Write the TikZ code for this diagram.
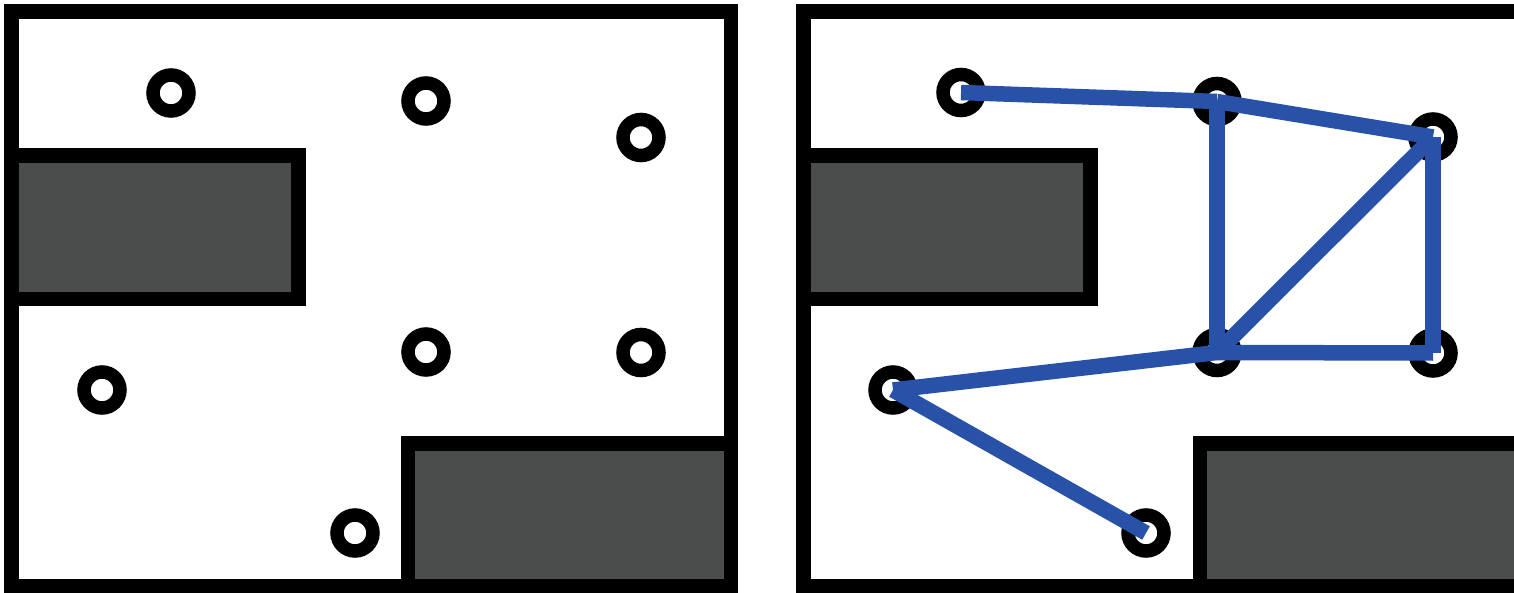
\documentclass[tikz,border=0pt]{standalone}
\definecolor{blockgray}{RGB}{74,77,76}
\definecolor{edgeblue}{RGB}{40,82,168}
\begin{document}
\begin{tikzpicture}[x=0.5pt,y=-0.5pt,
  frame/.style={draw=black,line width=7.25pt},
  block/.style={draw=black,fill=blockgray,line width=7.25pt},
  wp/.style={circle,draw=black,fill=white,line width=6.75pt,minimum size=18pt,inner sep=0pt},
  edge/.style={draw=edgeblue,line width=7.75pt}]
\useasboundingbox (0,0) rectangle (1514,593);
\clip (0,0) rectangle (1514,593);
% left panel
\draw[frame] (11.5,11.5) rectangle (731,586.5);
\draw[block] (11.5,155.5) rectangle (298.5,299);
\draw[block] (408,443.5) rectangle (731,586.5);
\node[wp] (l1) at (171,93) {};
\node[wp] (l2) at (426,101) {};
\node[wp] (l3) at (641,137.5) {};
\node[wp] (l4) at (426,352) {};
\node[wp] (l5) at (641,352.5) {};
\node[wp] (l6) at (102,390) {};
\node[wp] (l7) at (355,533) {};
% right panel
\draw[frame] (803.5,11.5) rectangle (1523,586.5);
\draw[block] (803.5,155.5) rectangle (1090.5,299);
\draw[block] (1200,443.5) rectangle (1523,586.5);
\node[wp] (r1) at (961,92.5) {};
\node[wp] (r2) at (1217,101.5) {};
\node[wp] (r3) at (1433,137) {};
\node[wp] (r4) at (1217,352.5) {};
\node[wp] (r5) at (1433,353) {};
\node[wp] (r6) at (893,390) {};
\node[wp] (r7) at (1146,533) {};
\draw[edge] (r1.center) -- (r2.center);
\draw[edge] (r2.center) -- (r3.center);
\draw[edge] (r2.center) -- (r4.center);
\draw[edge] (r3.center) -- (r4.center);
\draw[edge] (r3.center) -- (r5.center);
\draw[edge] (r4.center) -- (r5.center);
\draw[edge] (r4.center) -- (r6.center);
\draw[edge] (r6.center) -- (r7.center);
\end{tikzpicture}
\end{document}
